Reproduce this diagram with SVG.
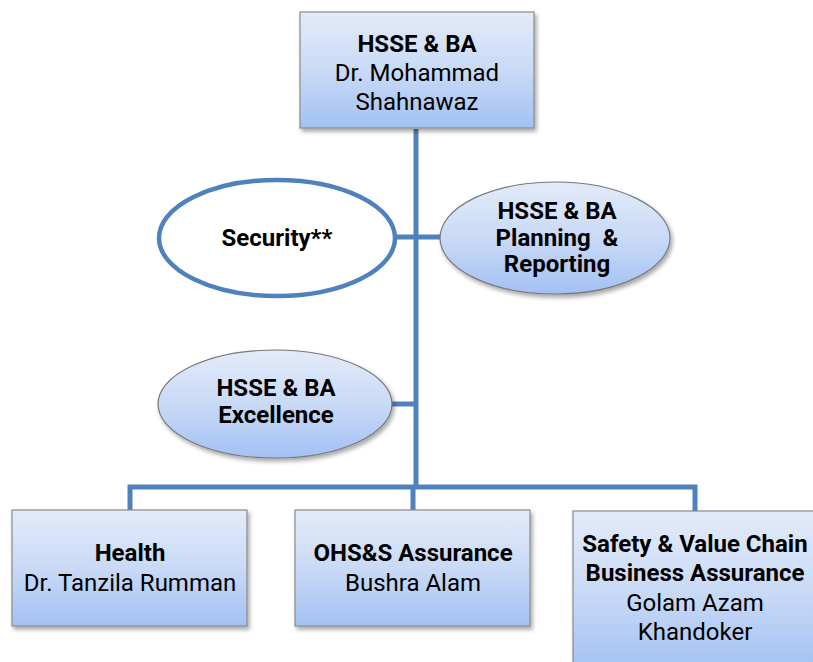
<svg xmlns="http://www.w3.org/2000/svg" width="813" height="662" viewBox="0 0 813 662">
<defs>
<linearGradient id="g" x1="0" y1="0" x2="0" y2="1">
<stop offset="0" stop-color="#e3ebf9"/>
<stop offset="0.5" stop-color="#c9daf6"/>
<stop offset="1" stop-color="#a3c1f3"/>
</linearGradient>
<filter id="sh" x="-10%" y="-10%" width="125%" height="130%">
<feDropShadow dx="2" dy="3" stdDeviation="2" flood-color="#000" flood-opacity="0.35"/>
</filter>
</defs>
<style>
.box{fill:url(#g);stroke:#8a8a8a;stroke-width:1.2;filter:url(#sh)}
.ell{fill:url(#g);stroke:#7a7a7a;stroke-width:1.2;filter:url(#sh)}
.conn{fill:none;stroke:#4f81bd;stroke-width:5}
text{font-family:Roboto,"Liberation Sans",sans-serif;font-size:24px;fill:#000;text-anchor:middle}
.b{font-weight:bold}
</style>
<g id="connectors">
<line class="conn" x1="416" y1="129" x2="416" y2="487"/>
<line class="conn" x1="396" y1="237" x2="442" y2="237"/>
<line class="conn" x1="391" y1="404" x2="416" y2="404"/>
<polyline class="conn" points="130,510 130,487 695,487 695,511"/>
<line class="conn" x1="413" y1="487" x2="413" y2="510"/>
</g>
<g id="top">
<rect class="box" x="300" y="12" width="234" height="116"/>
<text class="b" x="417" y="52">HSSE &amp; BA</text>
<text x="417" y="81">Dr. Mohammad</text>
<text x="417" y="110">Shahnawaz</text>
</g>
<g id="security">
<ellipse cx="277" cy="238" rx="118" ry="58" fill="#fff" stroke="#4f81bd" stroke-width="4.5"/>
<text class="b" x="277" y="246">Security**</text>
</g>
<g id="planning">
<ellipse class="ell" cx="555" cy="238" rx="115" ry="56"/>
<text class="b" x="557" y="219">HSSE &amp; BA</text>
<text class="b" x="557" y="246" xml:space="preserve">Planning  &amp;</text>
<text class="b" x="557" y="272">Reporting</text>
</g>
<g id="excellence">
<ellipse class="ell" cx="275" cy="404" rx="117" ry="54"/>
<text class="b" x="276" y="396">HSSE &amp; BA</text>
<text class="b" x="276" y="423">Excellence</text>
</g>
<g id="health">
<rect class="box" x="12" y="510" width="235" height="116"/>
<text class="b" x="130" y="561">Health</text>
<text x="130" y="591">Dr. Tanzila Rumman</text>
</g>
<g id="ohs">
<rect class="box" x="295" y="510" width="235" height="116"/>
<text class="b" x="413" y="561">OHS&amp;S Assurance</text>
<text x="413" y="591">Bushra Alam</text>
</g>
<g id="safety">
<rect class="box" x="573" y="511" width="250" height="160"/>
<text class="b" x="695" y="552">Safety &amp; Value Chain</text>
<text class="b" x="695" y="581">Business Assurance</text>
<text x="695" y="611">Golam Azam</text>
<text x="695" y="640">Khandoker</text>
</g>
</svg>
